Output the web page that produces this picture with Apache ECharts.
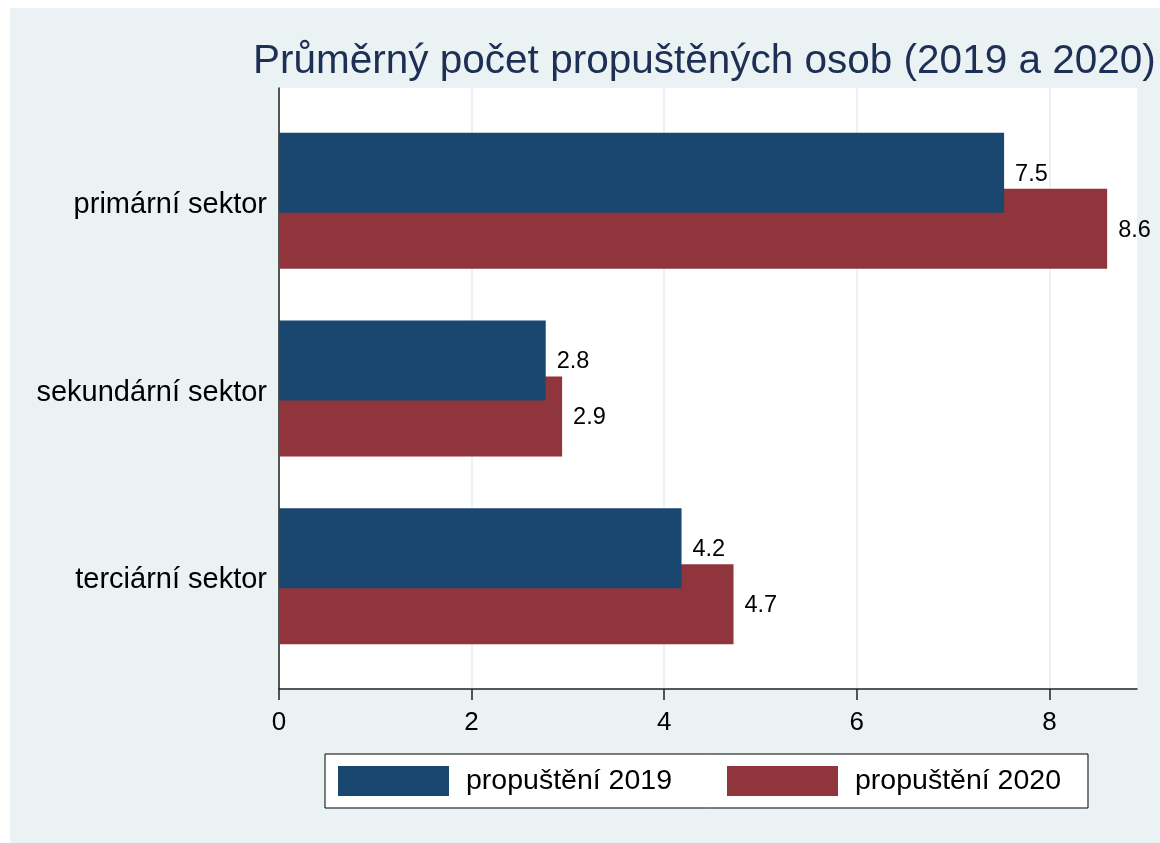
<!DOCTYPE html>
<html>
<head>
    <meta charset="UTF-8">
    <title>Průměrný počet propuštěných osob</title>
    <style>
        html, body {
            margin: 0;
            padding: 0;
            background-color: #FFF;
        }

        #main {
            width: 1160px;
            height: 843px;
        }
    </style>
</head>
<body>
<div id="main"></div>

<script src="https://cdn.jsdelivr.net/npm/echarts@6/dist/echarts.min.js"></script>
<script type="text/javascript">
    // data
    var sectors = ['primární sektor', 'sekundární sektor', 'terciární sektor'];
    var layoffs2019 = [7.53, 2.77, 4.18];
    var layoffs2020 = [8.60, 2.94, 4.72];
    var xTicks = [0, 2, 4, 6, 8];
    var seriesNames = ['propuštění 2019', 'propuštění 2020'];

    var font = 'Liberation Sans';
    var bgColor = '#EAF2F3';
    var axisColor = '#222';

    function barLabel() {
        return {
            show: true,
            position: 'right',
            distance: 11,
            offset: [0, 1.5],
            fontFamily: font,
            fontSize: 23.5,
            color: '#000',
            formatter: function (p) {
                return p.value.toFixed(1);
            }
        };
    }

    var mOptions = {
        backgroundColor: '#FFF',
        animation: false,

        // outer light panel
        graphic: [{
            type: 'rect',
            z: -100,
            silent: true,
            shape: {x: 10, y: 8, width: 1150, height: 835},
            style: {fill: bgColor}
        }],

        title: {
            text: 'Průměrný počet propuštěných osob (2019 a 2020)',
            left: 253,
            top: 41,
            padding: 0,
            textStyle: {
                fontFamily: font,
                fontSize: 40.5,
                fontWeight: 'normal',
                color: '#1E2F56'
            }
        },

        legend: {
            data: seriesNames,
            left: 325,
            top: 754,
            orient: 'horizontal',
            icon: 'rect',
            itemWidth: 111,
            itemHeight: 30,
            itemGap: 55,
            padding: [12, 27, 12, 13],
            backgroundColor: '#FFF',
            borderColor: '#000',
            borderWidth: 1,
            selectedMode: false,
            textStyle: {
                fontFamily: font,
                fontSize: 28.5,
                color: '#000',
                padding: [0, 0, 0, 12]
            }
        },

        grid: [{
            // frame: white plot area with axes
            left: 279,
            top: 88,
            width: 858,
            height: 601,
            show: true,
            backgroundColor: '#FFF',
            borderWidth: 0
        }, {
            // bars
            left: 279,
            top: 107,
            width: 858,
            height: 563
        }],

        xAxis: [{
            gridIndex: 0,
            type: 'value',
            min: 0,
            max: 8.91,
            interval: 2,
            axisLine: {show: true, onZero: false, lineStyle: {color: axisColor, width: 1.5}},
            axisTick: {show: true, length: 11, customValues: xTicks, lineStyle: {color: axisColor, width: 1.5}},
            axisLabel: {
                customValues: xTicks,
                fontFamily: font,
                fontSize: 26,
                color: '#000',
                margin: 21
            },
            splitLine: {show: true, lineStyle: {color: bgColor, width: 2}}
        }, {
            gridIndex: 1,
            type: 'value',
            min: 0,
            max: 8.91,
            show: false
        }],

        yAxis: [{
            gridIndex: 0,
            type: 'value',
            axisLine: {show: true, onZero: false, lineStyle: {color: axisColor, width: 1.5}},
            axisTick: {show: false},
            axisLabel: {show: false},
            splitLine: {show: false}
        }, {
            gridIndex: 1,
            type: 'category',
            data: sectors,
            inverse: true,
            axisLine: {show: false},
            axisTick: {show: false},
            axisLabel: {
                margin: 12,
                formatter: function (v) {
                    return '{c|' + v + '}';
                },
                rich: {
                    c: {
                        fontFamily: font,
                        fontSize: 29,
                        color: '#000',
                        padding: [8, 0, 0, 0]
                    }
                }
            }
        }],

        series: [{
            name: seriesNames[0],
            type: 'bar',
            xAxisIndex: 1,
            yAxisIndex: 1,
            z: 3,
            barWidth: 80,
            barGap: '-30%',
            itemStyle: {color: '#1A476F'},
            label: barLabel(),
            data: layoffs2019
        }, {
            name: seriesNames[1],
            type: 'bar',
            xAxisIndex: 1,
            yAxisIndex: 1,
            z: 2,
            barWidth: 80,
            barGap: '-30%',
            itemStyle: {color: '#90353B'},
            label: barLabel(),
            data: layoffs2020
        }]
    };

    var mCharts = echarts.init(document.getElementById('main'));
    mCharts.setOption(mOptions);
</script>
</body>
</html>
